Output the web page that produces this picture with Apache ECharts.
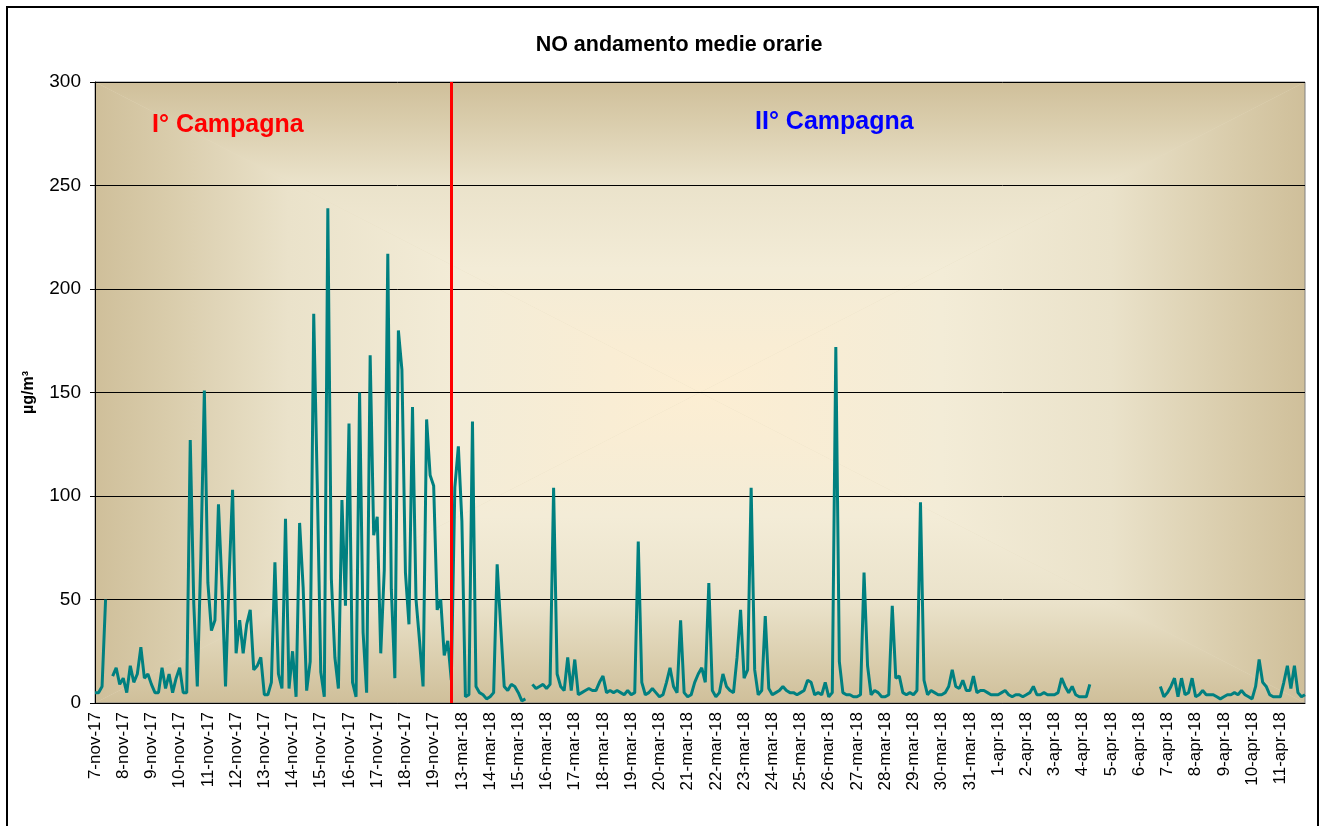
<!DOCTYPE html>
<html>
<head>
<meta charset="utf-8">
<title>NO andamento medie orarie</title>
<script src="https://cdn.jsdelivr.net/npm/echarts@6/dist/echarts.min.js"></script>
<style>
  html, body { margin: 0; padding: 0; background: #fff; }
  #chart { width: 1325px; height: 826px; }
</style>
</head>
<body>
<div id="chart"></div>
<script>
// etichette dei giorni (asse x)
const days = [
  '7-nov-17', '8-nov-17', '9-nov-17', '10-nov-17', '11-nov-17', '12-nov-17', '13-nov-17',
  '14-nov-17', '15-nov-17', '16-nov-17', '17-nov-17', '18-nov-17', '19-nov-17',
  '13-mar-18', '14-mar-18', '15-mar-18', '16-mar-18', '17-mar-18', '18-mar-18', '19-mar-18',
  '20-mar-18', '21-mar-18', '22-mar-18', '23-mar-18', '24-mar-18', '25-mar-18', '26-mar-18',
  '27-mar-18', '28-mar-18', '29-mar-18', '30-mar-18', '31-mar-18',
  '1-apr-18', '2-apr-18', '3-apr-18', '4-apr-18', '5-apr-18', '6-apr-18', '7-apr-18',
  '8-apr-18', '9-apr-18', '10-apr-18', '11-apr-18'
];

// valori letti ogni 3 ore (8 per giorno), null = dato mancante
const no = [
  5, 5, 8, 50, null, 13, 17, 9,          // 7-nov
  12, 5, 18, 10, 14, 27, 12, 14,         // 8-nov
  9, 5, 5, 17, 7, 14, 5, 12,             // 9-nov
  17, 5, 5, 127, 48, 8, 70, 151,         // 10-nov
  58, 35, 40, 96, 56, 8, 60, 103,        // 11-nov
  24, 40, 24, 38, 45, 16, 18, 22,        // 12-nov
  4, 4, 10, 68, 14, 7, 89, 7,            // 13-nov
  25, 3, 87, 56, 6, 20, 188, 106,        // 14-nov
  15, 3, 239, 60, 22, 7, 98, 47,         // 15-nov
  135, 10, 3, 150, 34, 5, 168, 81,       // 16-nov
  90, 24, 64, 217, 55, 12, 180, 161,     // 17-nov
  63, 38, 143, 50, 30, 8, 137, 110,      // 18-nov
  105, 45, 50, 23, 30, 11, 104, 124,     // 19-nov
  88, 3, 4, 136, 8, 5, 4, 2,             // 13-mar
  3, 5, 67, 37, 8, 6, 9, 8,              // 14-mar
  5, 1, 2, null, 9, 7, 8, 9,             // 15-mar
  7, 9, 104, 14, 8, 6, 22, 6,            // 16-mar
  21, 4, 5, 6, 7, 6, 6, 10,              // 17-mar
  13, 5, 6, 5, 6, 5, 4, 6,               // 18-mar
  4, 5, 78, 10, 4, 5, 7, 5,              // 19-mar
  3, 4, 10, 17, 8, 5, 40, 5,             // 20-mar
  3, 4, 10, 14, 17, 10, 58, 6,           // 21-mar
  3, 5, 14, 8, 6, 5, 22, 45,             // 22-mar
  12, 16, 104, 16, 4, 6, 42, 7,          // 23-mar
  4, 5, 6, 8, 6, 5, 5, 4,                // 24-mar
  5, 6, 11, 10, 4, 5, 4, 10,             // 25-mar
  3, 5, 172, 20, 5, 4, 4, 3,             // 26-mar
  3, 4, 63, 18, 4, 6, 5, 3,              // 27-mar
  3, 4, 47, 12, 13, 5, 4, 5,             // 28-mar
  4, 6, 97, 11, 4, 6, 5, 4,              // 29-mar
  4, 5, 8, 16, 8, 7, 11, 6,              // 30-mar
  6, 13, 5, 6, 6, 5, 4, 4,               // 31-mar
  4, 5, 6, 4, 3, 4, 4, 3,                // 1-apr
  4, 5, 8, 4, 4, 5, 4, 4,                // 2-apr
  4, 5, 12, 8, 5, 8, 4, 3,               // 3-apr
  3, 3, 9, null, null, null, null, null, // 4-apr
  null, null, null, null, null, null, null, null, // 5-apr
  null, null, null, null, null, null, 8, 3,       // 6-apr
  5, 8, 12, 3, 12, 4, 5, 12,             // 7-apr
  3, 4, 6, 4, 4, 4, 3, 2,                // 8-apr
  3, 4, 4, 5, 4, 6, 4, 3,                // 9-apr
  2, 8, 21, 10, 8, 4, 3, 3,              // 10-apr
  3, 10, 18, 7, 18, 5, 3, 4              // 11-apr
];

const slotsPerDay = 8;
const yTicks = [0, 50, 100, 150, 200, 250, 300];
// fine I° campagna (indice del campione)
const splitIndex = 101;

// categorie: un campione ogni 3 ore
const categories = [];
days.forEach(function (d) {
  for (let s = 0; s < slotsPerDay; s++) {
    categories.push(s === 0 ? d : d + ' ' + (s * 3) + 'h');
  }
});

// area del grafico
const L = 95, T = 82, R = 1305, B = 703;
const cx = (L + R) / 2, cy = (T + B) / 2;

// sfumatura "dal centro" dello sfondo (bordo -> centro)
const bgStops = [
  { offset: 0, color: '#CFBF9A' },
  { offset: 0.12, color: '#D9CCAB' },
  { offset: 0.32, color: '#EAE2CA' },
  { offset: 0.6, color: '#F3ECD7' },
  { offset: 0.85, color: '#F9EDD4' },
  { offset: 1, color: '#FCEED3' }
];
function grad(x, y, x2, y2) {
  return new echarts.graphic.LinearGradient(x, y, x2, y2, bgStops);
}
function tri(points, fill) {
  return { type: 'polygon', z: -5, silent: true, shape: { points: points }, style: { fill: fill } };
}

const chart = echarts.init(document.getElementById('chart'));
chart.setOption({
  animation: false,
  textStyle: { fontFamily: 'Liberation Sans, Arial, sans-serif' },
  title: {
    text: 'NO andamento medie orarie',
    left: 674,
    top: 29,
    textAlign: 'center',
    textStyle: { fontSize: 21.5, fontWeight: 'bold', color: '#000', fontFamily: 'Liberation Sans' }
  },
  grid: {
    left: L, top: T, right: 1325 - R, bottom: 826 - B,
    show: true, borderColor: '#808080', borderWidth: 1,
    backgroundColor: 'transparent'
  },
  graphic: [
    { type: 'rect', z: -6, silent: true, shape: { x: L, y: T, width: R - L, height: B - T }, style: { fill: '#E6DCC1' } },
    tri([[L, T], [R, T], [cx, cy]], grad(0, 0, 0, 1)),
    tri([[L, B], [R, B], [cx, cy]], grad(0, 1, 0, 0)),
    tri([[L, T], [L, B], [cx, cy]], grad(0, 0, 1, 0)),
    tri([[R, T], [R, B], [cx, cy]], grad(1, 0, 0, 0)),
    {
      type: 'text', z: 10, x: 152, y: 125,
      style: { text: 'I° Campagna', fill: '#FF0000', font: 'bold 25px Liberation Sans', textVerticalAlign: 'middle' }
    },
    {
      type: 'text', z: 10, x: 755, y: 122,
      style: { text: 'II° Campagna', fill: '#0000FF', font: 'bold 25px Liberation Sans', textVerticalAlign: 'middle' }
    },
    {
      type: 'rect', z: 10, silent: true,
      shape: { x: 7, y: 7, width: 1311, height: 850 },
      style: { fill: 'none', stroke: '#000', lineWidth: 2 }
    }
  ],
  xAxis: {
    type: 'category',
    data: categories,
    boundaryGap: false,
    axisLine: { lineStyle: { color: '#000', width: 1 } },
    axisTick: { show: false },
    axisLabel: {
      interval: function (i) { return i % slotsPerDay === 0; },
      rotate: 90,
      margin: 9,
      fontSize: 17,
      color: '#000',
      fontFamily: 'Liberation Sans'
    },
    splitLine: { show: false }
  },
  yAxis: {
    type: 'value',
    min: yTicks[0],
    max: yTicks[yTicks.length - 1],
    interval: 50,
    name: 'µg/m³',
    nameLocation: 'middle',
    nameRotate: 90,
    nameGap: 58,
    nameTextStyle: { fontSize: 16, fontWeight: 'bold', color: '#000', fontFamily: 'Liberation Sans' },
    axisLine: { show: true, lineStyle: { color: '#000', width: 1 } },
    axisTick: { show: true, length: 5, lineStyle: { color: '#000' } },
    axisLabel: { fontSize: 19, color: '#000', margin: 14, fontFamily: 'Liberation Sans' },
    splitLine: { show: true, lineStyle: { color: '#000', width: 1 } }
  },
  series: [
    {
      name: 'NO',
      type: 'line',
      data: no,
      showSymbol: false,
      connectNulls: false,
      lineStyle: { color: '#008080', width: 3 },
      itemStyle: { color: '#008080' },
      markLine: {
        silent: true,
        symbol: 'none',
        label: { show: false },
        lineStyle: { color: '#FF0000', width: 3, type: 'solid' },
        data: [{ xAxis: categories[splitIndex] }]
      }
    }
  ]
});
</script>
</body>
</html>
